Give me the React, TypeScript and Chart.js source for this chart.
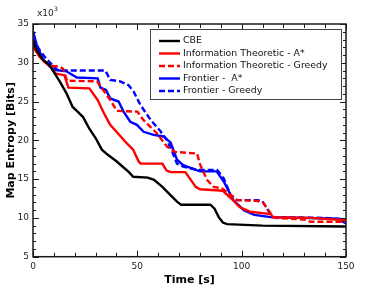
import React, { useEffect, useRef } from "react";
import { Chart, registerables } from "chart.js";
Chart.register(...registerables);

// ---- data (time in s, entropy in x10^3 bits) ----
const cbeTime = [0, 2, 5, 8, 10, 13, 16, 19, 21, 24, 27, 30, 33, 36, 40, 43, 46, 48, 55, 58, 62, 66, 69, 71, 85, 87, 89, 91, 93, 110, 150];
const cbeValues = [32.8, 31.5, 30.3, 29.7, 28.8, 27.5, 26.1, 24.3, 23.8, 23.0, 21.5, 20.3, 18.8, 18.1, 17.3, 16.6, 15.9, 15.3, 15.2, 14.9, 14.0, 12.9, 12.1, 11.7, 11.7, 11.2, 10.1, 9.4, 9.2, 9.0, 8.9];

const itAstarTime = [0, 3, 6, 8, 11, 15, 17, 27, 31, 34, 37, 40, 45, 48, 50.6, 51.5, 62, 64, 66, 73, 78, 80, 91, 95, 99, 104, 114, 115, 133, 150];
const itAstarValues = [32.2, 30.8, 30.0, 29.6, 28.6, 28.4, 26.8, 26.7, 25.2, 23.5, 22.0, 21.1, 19.6, 18.8, 17.3, 17.0, 17.0, 16.1, 15.9, 15.9, 14.0, 13.7, 13.5, 12.5, 11.4, 10.8, 10.5, 10.1, 10.0, 9.7];

const itGreedyTime = [0, 3, 6.7, 9, 13, 14.5, 16.3, 30.7, 32, 37, 40.2, 50, 53, 59.4, 64.2, 68.2, 78.6, 80.2, 83.4, 86.6, 90.6, 94.6, 97.8, 107.4, 110.5, 113.8, 116, 129.7, 133, 150];
const itGreedyValues = [32.0, 30.9, 29.9, 29.6, 29.5, 29.2, 27.7, 27.6, 27.1, 25.2, 23.8, 23.7, 22.6, 20.9, 19.2, 18.5, 18.3, 16.8, 14.9, 14.0, 13.8, 13.0, 12.3, 12.2, 11.9, 10.6, 10.0, 9.8, 9.5, 9.5];

const frAstarTime = [0, 2, 5, 8, 10, 16, 21, 31, 32.3, 35, 37, 41, 43.4, 46.6, 49.8, 53, 57.8, 62.6, 66, 69, 72, 80, 88, 91.4, 96, 101, 106, 114, 146, 150];
const frAstarValues = [34.1, 32.1, 30.4, 29.5, 29.1, 28.9, 28.1, 28.0, 26.8, 26.5, 25.4, 25.0, 23.7, 22.4, 22.0, 21.1, 20.7, 20.5, 19.7, 17.5, 16.8, 16.0, 16.0, 14.7, 12.3, 11.0, 10.4, 10.1, 9.9, 9.3];

const frGreedyTime = [0, 3, 6.7, 11.5, 13, 34.7, 37, 41.8, 45.8, 48.2, 51.4, 56.2, 61, 64.2, 66, 69, 72, 78.6, 88.2, 91.4, 94.6, 97.8, 107.4, 109.8, 112.2, 114.6, 140, 150];
const frGreedyValues = [33.2, 31.7, 30.4, 29.1, 29.0, 29.0, 27.8, 27.6, 27.1, 26.3, 24.6, 22.7, 21.2, 20.0, 19.0, 17.0, 16.6, 16.2, 16.2, 15.1, 13.0, 12.3, 12.3, 12.2, 11.2, 10.1, 10.0, 9.8];

const seriesLabels = ["CBE", "Information Theoretic - A*", "Information Theoretic - Greedy", "Frontier -  A*", "Frontier - Greedy"];
const xMin = 0, xMax = 150, xMajor = 50, xMinor = 10;
const yMin = 5, yMax = 35, yMajor = 5, yMinor = 1;

const FONT = "'DejaVu Sans', Verdana, sans-serif";

function pts(t: number[], v: number[]) {
  return t.map((x, i) => ({ x, y: v[i] }));
}

const framePlugin = {
  id: "frame",
  afterDatasetsDraw(chart: any) {
    const { ctx, chartArea, scales } = chart;
    const { left, right, top, bottom } = chartArea;
    const xs = scales.x, ys = scales.y;
    ctx.save();
    ctx.strokeStyle = "#1a1a1a";
    ctx.lineWidth = 1;
    ctx.beginPath();
    for (let v = xMin; v <= xMax; v += xMinor) {
      const px = Math.round(xs.getPixelForValue(v)) + 0.5;
      const len = v % xMajor === 0 ? 6 : 4;
      ctx.moveTo(px, bottom); ctx.lineTo(px, bottom - len);
      ctx.moveTo(px, top); ctx.lineTo(px, top + len);
    }
    for (let v = yMin; v <= yMax; v += yMinor) {
      const py = Math.round(ys.getPixelForValue(v)) + 0.5;
      const len = v % yMajor === 0 ? 6 : 3;
      ctx.moveTo(left, py); ctx.lineTo(left + len, py);
      ctx.moveTo(right, py); ctx.lineTo(right - len, py);
    }
    ctx.stroke();
    ctx.lineWidth = 1.5;
    ctx.strokeRect(left, top, right - left, bottom - top);

    // legend
    const bx = 150.5, by = 29.5, bw = 191, bh = 70;
    ctx.fillStyle = "#fff";
    ctx.fillRect(bx, by, bw, bh);
    ctx.lineWidth = 1;
    ctx.strokeStyle = "#444";
    ctx.strokeRect(bx, by, bw, bh);
    ctx.font = `9.4px ${FONT}`;
    ctx.textBaseline = "middle";
    chart.data.datasets.forEach((ds: any, i: number) => {
      const yy = 41 + i * 12.5;
      ctx.strokeStyle = ds.borderColor;
      ctx.lineWidth = 2.4;
      ctx.setLineDash(ds.borderDash || []);
      ctx.beginPath();
      ctx.moveTo(159, yy); ctx.lineTo(180, yy);
      ctx.stroke();
      ctx.setLineDash([]);
      ctx.fillStyle = "#111";
      ctx.fillText(ds.label, 183, yy);
    });

    // x10^3
    ctx.fillStyle = "#222";
    ctx.textBaseline = "alphabetic";
    ctx.font = `9px ${FONT}`;
    ctx.fillText("x10", 37, 16);
    ctx.font = `6px ${FONT}`;
    ctx.fillText("3", 54, 11);
    ctx.restore();
  },
};

export default function App() {
  const ref = useRef<HTMLCanvasElement>(null);
  useEffect(() => {
    document.body.style.margin = "0";
    const mk = (label: string, t: number[], v: number[], color: string, dash?: number[]) => ({
      label,
      data: pts(t, v),
      borderColor: color,
      backgroundColor: color,
      borderWidth: 2.4,
      borderDash: dash,
      pointRadius: 0,
      tension: 0,
      fill: false,
    });
    const chart = new Chart(ref.current!, {
      type: "line",
      data: {
        datasets: [
          mk(seriesLabels[0], cbeTime, cbeValues, "#000000"),
          mk(seriesLabels[1], itAstarTime, itAstarValues, "#ff0000"),
          mk(seriesLabels[2], itGreedyTime, itGreedyValues, "#ff0000", [6, 3]),
          mk(seriesLabels[3], frAstarTime, frAstarValues, "#0000ff"),
          mk(seriesLabels[4], frGreedyTime, frGreedyValues, "#0000ff", [6, 3]),
        ] as any,
      },
      options: {
        responsive: false,
        animation: false,
        layout: { padding: { left: 0, right: 28, top: 24, bottom: 12 } },
        plugins: { legend: { display: false }, tooltip: { enabled: false } },
        scales: {
          x: {
            type: "linear",
            min: xMin,
            max: xMax,
            grid: { display: false, drawTicks: false },
            border: { display: false },
            ticks: { stepSize: xMajor, font: { family: FONT, size: 9 }, color: "#222", padding: 5 },
            title: { display: true, text: "Time [s]", font: { family: FONT, size: 11, weight: "bold" }, color: "#000", padding: { top: 0, bottom: 4 } },
            afterFit: (s: any) => { s.height = 34.3; },
          },
          y: {
            type: "linear",
            min: yMin,
            max: yMax,
            grid: { display: false, drawTicks: false },
            border: { display: false },
            ticks: { stepSize: yMajor, font: { family: FONT, size: 9 }, color: "#222", padding: 4 },
            title: { display: true, text: "Map Entropy [Bits]", font: { family: FONT, size: 11, weight: "bold" }, color: "#000", padding: { top: 5, bottom: 0 } },
            afterFit: (s: any) => { s.width = 33; },
          },
        },
      } as any,
      plugins: [framePlugin],
    });
    return () => chart.destroy();
  }, []);
  return (
    <div style={{ width: 374, height: 303 }}>
      <canvas ref={ref} width={374} height={303} />
    </div>
  );
}
